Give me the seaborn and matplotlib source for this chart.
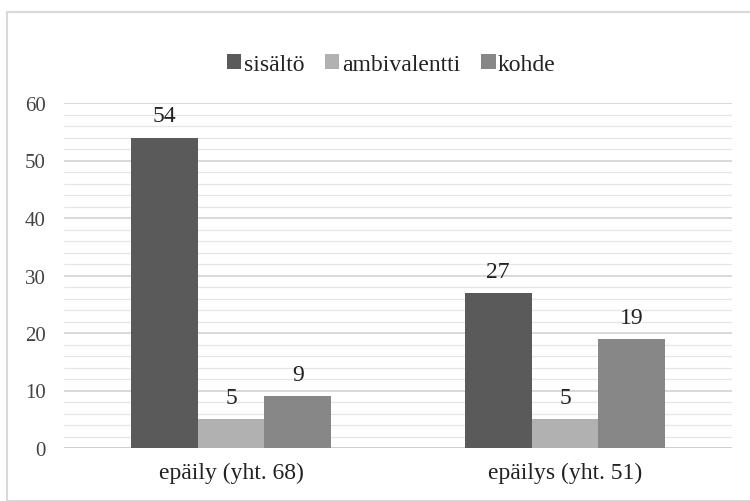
import matplotlib
matplotlib.use("Agg")
import matplotlib.pyplot as plt
from matplotlib.patches import Rectangle
from matplotlib.ticker import MultipleLocator
import seaborn as sns
import pandas as pd

# Data
categories = ["epäily (yht. 68)", "epäilys (yht. 51)"]
series = ["sisältö", "ambivalentti", "kohde"]
sisalto = [54, 27]
ambivalentti = [5, 5]
kohde = [9, 19]
colors = ["#5a5a5a", "#b1b1b1", "#878787"]

df = pd.DataFrame({
    "kategoria": categories * 3,
    "sarja": [s for s in series for _ in categories],
    "arvo": sisalto + ambivalentti + kohde,
})

sns.set_style("white")
plt.rcParams["font.family"] = "serif"
plt.rcParams["font.serif"] = ["Liberation Serif", "DejaVu Serif"]

fig = plt.figure(figsize=(7.5, 5.02), dpi=100)
ax = fig.add_axes([64 / 750, 1 - 449 / 502, 668 / 750, (449 - 104) / 502])

sns.barplot(data=df, x="kategoria", y="arvo", hue="sarja", hue_order=series,
            order=categories, palette=colors, width=0.6, gap=0, ax=ax,
            saturation=1, linewidth=0, zorder=3)

for cont in ax.containers:
    ax.bar_label(cont, padding=8, fontsize=17, color="#222222")

ax.set_ylim(0, 60)
ax.yaxis.set_major_locator(MultipleLocator(10))
ax.yaxis.set_minor_locator(MultipleLocator(2))
ax.grid(axis="y", which="major", color="#d6d6d6", linewidth=1.3, zorder=0)
ax.grid(axis="y", which="minor", color="#e6e6e6", linewidth=0.9, zorder=0)
ax.set_axisbelow(True)
for s in ax.spines.values():
    s.set_visible(False)
ax.tick_params(axis="y", labelsize=15, colors="#444444", length=0, pad=13)
ax.tick_params(axis="x", labelsize=17, colors="#222222", length=0, pad=10)
ax.set_xlabel("")
ax.set_ylabel("")
ax.axhline(0, color="#d0d0d0", linewidth=1.3, zorder=1)

handles, labels = ax.get_legend_handles_labels()
ax.legend(handles, labels, loc="center", bbox_to_anchor=(0.49, 1.113), ncol=3,
          frameon=False, fontsize=17, handlelength=0.6, handleheight=0.6,
          handletextpad=0.1, columnspacing=0.9, labelcolor="#222222")

fig.patches.append(Rectangle((7 / 750, 0), 1, 1 - 13 / 502, transform=fig.transFigure,
                             fill=False, edgecolor="#d9d9d9", linewidth=1.5))

fig.savefig("out.png", dpi=100)
